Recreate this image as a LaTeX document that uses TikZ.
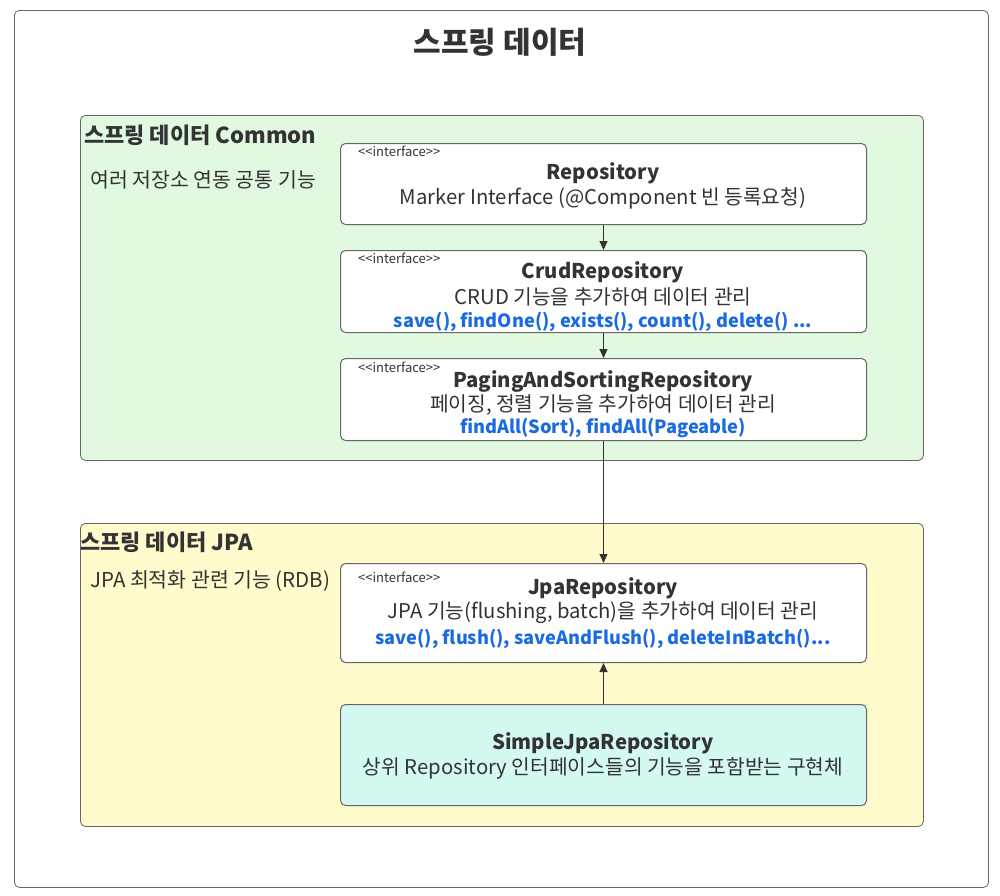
\documentclass[tikz,border=0pt]{standalone}
\usepackage{fontspec}
\setmainfont{Noto Sans CJK KR}
\usetikzlibrary{arrows.meta}
\definecolor{txt}{HTML}{333333}
\definecolor{edgec}{HTML}{333333}
\definecolor{borderc}{HTML}{666666}
\definecolor{greenbg}{HTML}{E1F8E1}
\definecolor{yellowbg}{HTML}{FFFBCC}
\definecolor{cyanbg}{HTML}{D4F8F2}
\definecolor{bluet}{HTML}{1A6AE0}
\newcommand{\stereotxt}{{<}{<}interface{>}{>}}
\tikzset{
  frame/.style={draw=borderc, line width=0.8pt, rounded corners=5pt, anchor=north west, inner sep=0pt},
  ibox/.style={draw=borderc, fill=white, line width=1pt, rounded corners=5pt, anchor=north west, inner sep=0pt, minimum width=526pt},
  stereo/.style={text=txt, font=\fontsize{13}{15}\selectfont, anchor=west, inner sep=0pt},
  ttl/.style={text=txt, font=\bfseries\fontsize{20.3}{24}\selectfont, inner sep=0pt},
  sub/.style={text=txt, font=\fontsize{20.3}{24}\selectfont, inner sep=0pt},
  meth/.style={text=bluet, font=\bfseries\fontsize{18.2}{22}\selectfont, inner sep=0pt},
  clab/.style={text=txt, font=\bfseries\fontsize{22}{26}\selectfont, anchor=west, inner sep=0pt},
  cdesc/.style={text=txt, font=\fontsize{20.5}{24}\selectfont, anchor=west, inner sep=0pt},
  arr/.style={draw=edgec, line width=1pt, -{Triangle[length=9pt,width=8pt]}}
}
\begin{document}
\begin{tikzpicture}[x=1pt,y=-1pt]
\useasboundingbox (0,0) rectangle (1000,895);
\node[frame, fill=white, minimum width=974pt, minimum height=877pt] (outer) at (14,10) {};
\node[text=txt, font=\bfseries\fontsize{30}{34}\selectfont, inner sep=0pt] (title) at (500,42) {스프링 데이터};

\node[frame, fill=greenbg, minimum width=843pt, minimum height=345pt] (common) at (80,115) {};
\node[clab] (commonlab) at (84,135) {스프링 데이터 Common};
\node[cdesc] (commondesc) at (90,180) {여러 저장소 연동 공통 기능};

\node[frame, fill=yellowbg, minimum width=843pt, minimum height=303pt] (jpa) at (80,523) {};
\node[clab] (jpalab) at (80,542) {스프링 데이터 JPA};
\node[cdesc] (jpadesc) at (90,581) {JPA 최적화 관련 기능 (RDB)};

% Repository
\node[ibox, minimum height=81pt] (repo) at (340,143) {};
\node[stereo] (repos) at (358,151) {\stereotxt};
\node[ttl] (repot) at (603,173) {Repository};
\node[sub] (repod) at (603,198) {Marker Interface (@Component 빈 등록요청)};

% Crud
\node[ibox, minimum height=82pt] (crud) at (340,250) {};
\node[stereo] (cruds) at (358,258) {\stereotxt};
\node[ttl] (crudt) at (603,272) {CrudRepository};
\node[sub] (crudd) at (603,297) {CRUD 기능을 추가하여 데이터 관리};
\node[meth] (crudm) at (603,322) {save(), findOne(), exists(), count(), delete() ...};

% Paging
\node[ibox, minimum height=82pt] (paging) at (340,358) {};
\node[stereo] (pagings) at (358,367) {\stereotxt};
\node[ttl] (pagingt) at (603,381) {PagingAndSortingRepository};
\node[sub] (pagingd) at (603,405) {페이징, 정렬 기능을 추가하여 데이터 관리};
\node[meth] (pagingm) at (603,428) {findAll(Sort), findAll(Pageable)};

% Jpa
\node[ibox, minimum height=99pt] (jparepo) at (340,563) {};
\node[stereo] (jparepos) at (358,577) {\stereotxt};
\node[ttl] (jparepot) at (603,588) {JpaRepository};
\node[sub] (jparepod) at (603,613) {JPA 기능(flushing, batch)을 추가하여 데이터 관리};
\node[meth] (jparepom) at (603,639) {save(), flush(), saveAndFlush(), deleteInBatch()...};

% Simple
\node[ibox, fill=cyanbg, minimum height=101pt] (simple) at (340,704) {};
\node[ttl] (simplet) at (603,743) {SimpleJpaRepository};
\node[sub] (simpled) at (603,768) {상위 Repository 인터페이스들의 기능을 포함받는 구현체};

\draw[arr] (repo.south) -- (crud.north);
\draw[arr] (crud.south) -- (paging.north);
\draw[arr] (paging.south) -- (jparepo.north);
\draw[arr] (simple.north) -- (jparepo.south);
\end{tikzpicture}
\end{document}
